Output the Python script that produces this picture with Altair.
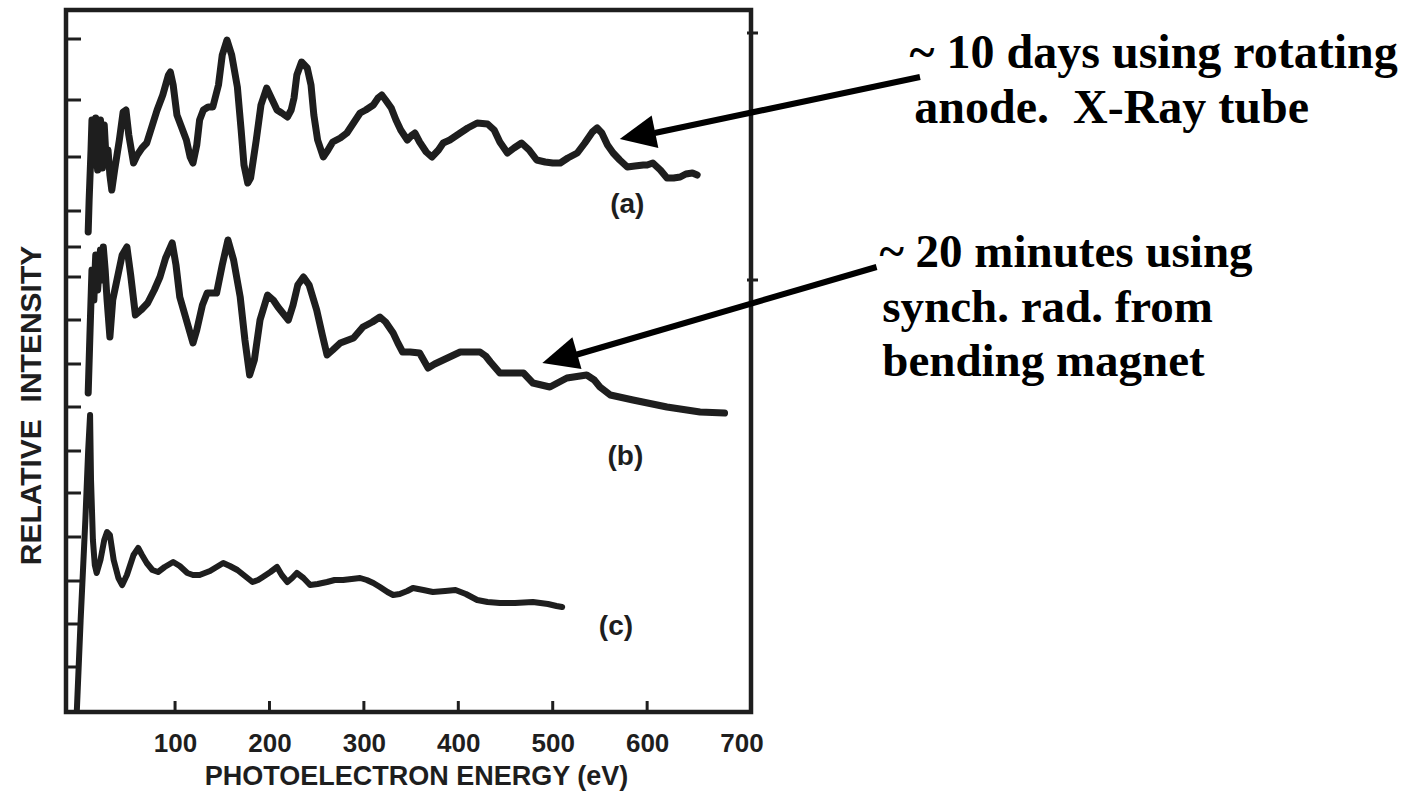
import altair as alt
import pandas as pd

# ---------------- data ----------------
# photoelectron energy (eV) / relative intensity (arbitrary units)
A_E = [8, 9, 11, 12, 14, 16, 18, 21, 23, 25, 27, 29, 31, 33, 36, 41, 45, 48, 51, 56,
       60, 65, 70, 76, 81, 87, 93, 95, 98, 102, 106, 112, 116, 119, 123, 126, 130, 135, 140, 146,
       150, 155, 160, 166, 170, 173, 177, 180, 186, 191, 197, 203, 208, 213, 219, 223, 226, 229, 234, 240,
       244, 247, 251, 257, 262, 267, 275, 282, 289, 296, 302, 310, 315, 319, 323, 329, 334, 339, 346, 351,
       354, 359, 366, 372, 379, 384, 391, 402, 410, 420, 431, 438, 444, 452, 459, 467, 475, 483, 492, 500,
       508, 516, 526, 534, 542, 547, 552, 558, 564, 571, 579, 587, 596, 600, 606, 614, 621, 628, 635, 641,
       648, 653]
A_I = [48.0, 51.2, 56.2, 59.2, 54.7, 59.4, 54.2, 59.2, 54.4, 58.7, 55.2, 56.2, 53.7, 52.2, 54.2, 57.2, 60.0, 60.2, 57.7, 54.9,
       55.7, 56.4, 56.9, 58.7, 60.2, 61.7, 63.7, 64.0, 62.7, 59.7, 58.7, 57.2, 55.5, 54.9, 56.7, 59.2, 60.2, 60.5, 60.5, 62.7,
       65.7, 67.2, 65.7, 62.5, 58.2, 54.7, 52.9, 53.4, 57.2, 60.7, 62.4, 61.2, 60.2, 59.9, 59.5, 60.2, 61.4, 63.7, 65.0, 64.4,
       62.7, 59.7, 57.2, 55.5, 56.2, 57.0, 57.4, 57.9, 58.9, 59.9, 60.2, 60.7, 61.4, 61.7, 61.2, 60.4, 59.2, 58.2, 57.2, 57.7,
       57.9, 57.0, 56.0, 55.5, 56.2, 56.9, 57.2, 57.9, 58.4, 58.9, 58.8, 58.2, 57.0, 55.9, 56.4, 56.9, 56.2, 55.2, 55.0, 54.9,
       54.9, 55.4, 55.9, 56.9, 58.0, 58.4, 57.9, 56.7, 55.9, 55.2, 54.5, 54.6, 54.7, 54.7, 54.9, 54.2, 53.4, 53.4, 53.5, 53.8,
       53.9, 53.7]

B_E = [8, 10, 12, 14, 16, 18, 21, 23, 24, 26, 28, 31, 34, 40, 44, 49, 53, 58, 64, 71,
       78, 84, 90, 97, 101, 105, 112, 119, 123, 129, 134, 144, 150, 156, 162, 169, 174, 179, 184, 190,
       198, 204, 209, 220, 225, 230, 236, 242, 250, 256, 261, 267, 275, 289, 299, 309, 317, 323, 331, 336,
       341, 349, 359, 368, 375, 384, 402, 423, 429, 434, 444, 457, 469, 479, 497, 515, 536, 544, 550, 561,
       585, 621, 656, 682]
B_I = [31.9, 38.2, 44.2, 41.2, 45.7, 42.2, 46.2, 43.2, 46.5, 44.2, 41.2, 37.5, 41.2, 43.9, 45.7, 46.5, 43.7, 39.7, 40.2, 40.9,
       42.2, 43.5, 45.4, 46.9, 44.7, 41.5, 39.2, 36.9, 38.2, 40.7, 41.9, 41.9, 44.7, 47.2, 45.2, 41.5, 37.2, 33.7, 35.2, 39.2,
       41.7, 41.2, 40.5, 39.2, 40.7, 42.7, 43.5, 42.7, 40.2, 37.7, 35.7, 36.2, 36.9, 37.4, 38.5, 39.0, 39.5, 39.0, 37.9, 36.9,
       36.0, 36.0, 35.9, 34.4, 34.8, 35.2, 36.0, 36.0, 35.6, 35.0, 33.9, 33.9, 33.9, 32.9, 32.5, 33.4, 33.7, 33.2, 32.5, 31.7,
       31.2, 30.5, 30.0, 29.9]

C_E = [-4, 0, 5, 8, 10, 11, 13, 15, 17, 21, 25, 28, 31, 35, 40, 44, 49, 56, 61, 65,
       70, 76, 82, 89, 98, 105, 113, 119, 126, 137, 151, 158, 166, 174, 182, 188, 193, 201, 208, 213,
       219, 224, 229, 236, 243, 251, 261, 269, 278, 287, 296, 303, 310, 317, 325, 331, 338, 346, 352, 363,
       373, 386, 397, 408, 420, 431, 444, 460, 479, 495, 504, 510]
C_I = [0.2, 9.2, 19.2, 26.2, 29.7, 23.2, 17.2, 14.7, 13.9, 15.2, 17.2, 18.0, 17.7, 15.2, 13.4, 12.7, 13.7, 15.7, 16.4, 15.7,
       14.9, 14.2, 14.0, 14.5, 15.0, 14.6, 13.9, 13.7, 13.7, 14.1, 14.9, 14.6, 14.2, 13.6, 13.0, 13.2, 13.5, 14.0, 14.5, 13.7,
       13.0, 13.4, 13.9, 13.4, 12.7, 12.8, 13.0, 13.2, 13.2, 13.3, 13.4, 13.2, 12.9, 12.5, 12.0, 11.7, 11.8, 12.1, 12.4, 12.2,
       12.0, 12.1, 12.2, 11.8, 11.2, 11.0, 10.9, 10.9, 11.0, 10.8, 10.6, 10.5]

X_LABELS = [100, 200, 300, 400, 500, 600, 700]
X_TICKS = [100, 200, 300, 400, 500, 600]
Y_TICKS = [67.3, 61.2, 55.5, 50.1, 46.5, 43.5, 39.2, 34.8, 30.5, 26.1, 21.9, 17.5, 13.1, 8.8, 4.5]
Y_RIGHT_TICKS = [67.9, 43.2]

NBSP = "\u00a0"
CURVE_LABELS = ["(a)", "(b)", "(c)"]
CURVE_LABEL_E = [579, 577, 567]
CURVE_LABEL_I = [50.7, 25.5, 8.5]

NOTE_TEXT = ["~ 10 days using rotating", "anode." + NBSP + NBSP + "X-Ray tube",
             "~ 20 minutes using", "synch. rad. from", "bending magnet"]
NOTE_E = [878, 883, 846, 849, 849]
NOTE_I = [64.4, 58.9, 44.5, 39.0, 33.6]
NOTE_SIZE = [48, 48, 47, 47, 47]

ARROW_TAIL_E = [889, 843]
ARROW_TAIL_I = [63.5, 44.5]
ARROW_BASE_E = [608, 524]
ARROW_BASE_I = [57.9, 35.7]
ARROW_TIP_E = [571, 489]
ARROW_TIP_I = [57.3, 34.9]
ARROW_ANGLE = [348.3, 344.0]

# ---------------- tables ----------------
def curve(e, i, name):
    return pd.DataFrame({"e": e, "v": i, "s": name, "k": list(range(len(e)))})

ca, cb, cc = curve(A_E, A_I, "a"), curve(B_E, B_I, "b"), curve(C_E, C_I, "c")
ytk = pd.DataFrame({"v": Y_TICKS})
ytr = pd.DataFrame({"v": Y_RIGHT_TICKS})
xtk = pd.DataFrame({"e": X_TICKS})
lab = pd.DataFrame({"e": CURVE_LABEL_E, "v": CURVE_LABEL_I, "t": CURVE_LABELS})
notes = pd.DataFrame({"e": NOTE_E, "v": NOTE_I, "t": NOTE_TEXT, "fs": NOTE_SIZE})
shafts = pd.DataFrame({"e": ARROW_TAIL_E, "v": ARROW_TAIL_I, "e2": ARROW_BASE_E, "v2": ARROW_BASE_I})
heads = pd.DataFrame({"e": ARROW_TIP_E, "v": ARROW_TIP_I, "a": ARROW_ANGLE})

INK = "#1e1e1e"
SANS = "Liberation Sans"

xs = alt.Scale(domain=[-15.5, 710], nice=False, zero=False)
ys = alt.Scale(domain=[0, 70.2], nice=False, zero=False)

x_axis = alt.Axis(values=X_LABELS, title="PHOTOELECTRON ENERGY (eV)", ticks=False, domain=False,
                  grid=False, labelFont=SANS, labelFontSize=26, labelFontWeight="bold",
                  labelColor=INK, labelPadding=18, labelFlush=False, labelOverlap=False,
                  titleFont=SANS, titleFontSize=27, titleFontWeight="bold", titleColor=INK,
                  titleX=350, titleY=72, titleBaseline="alphabetic")
y_axis = alt.Axis(labels=False, ticks=False, domain=False, grid=False,
                  title="RELATIVE" + NBSP + NBSP + "INTENSITY", titleFont=SANS, titleFontSize=30,
                  titleFontWeight="bold", titleColor=INK, titleX=-26, titleY=395,
                  titleAngle=270, titleBaseline="alphabetic", titleAlign="center")


def X(field="e"):
    return alt.X(f"{field}:Q", scale=xs, axis=x_axis)


def Y(field="v"):
    return alt.Y(f"{field}:Q", scale=ys, axis=y_axis)


def line(df, w):
    return alt.Chart(df).mark_line(color=INK, strokeWidth=w, strokeCap="round",
                                   strokeJoin="round").encode(
        x=X(), y=Y(), order=alt.Order("k:Q"))


line_a = line(ca, 7)
line_b = line(cb, 7)
line_c = line(cc, 6)

yticks = alt.Chart(ytk).mark_rule(color=INK, strokeWidth=3).encode(
    y=Y(), x=alt.value(0), x2=alt.value(15))
yticks_r = alt.Chart(ytr).mark_rule(color=INK, strokeWidth=3).encode(
    y=Y(), x=alt.value(681), x2=alt.value(692))
xticks = alt.Chart(xtk).mark_rule(color=INK, strokeWidth=3).encode(
    x=X(), y=alt.value(691), y2=alt.value(702))

labels = alt.Chart(lab).mark_text(font=SANS, fontSize=28, fontWeight="bold", color=INK,
                                  align="center", baseline="middle").encode(
    x=X(), y=Y(), text="t:N")

note_text = alt.Chart(notes).mark_text(font="Liberation Serif", fontWeight="bold",
                                       color="black", align="left", baseline="alphabetic").encode(
    x=X(), y=Y(), text="t:N", size=alt.Size("fs:Q", scale=None, legend=None))

shaft = alt.Chart(shafts).mark_rule(color="black", strokeWidth=6).encode(
    x=X(), y=Y(), x2="e2:Q", y2="v2:Q")

head = alt.Chart(heads).mark_point(shape="M0,0L2,-0.92L2,0.92Z", filled=True, size=1296,
                                   color="black", opacity=1, strokeWidth=0).encode(
    x=X(), y=Y(), angle=alt.Angle("a:Q", scale=None))

chart = alt.layer(line_a, line_b, line_c, yticks, yticks_r, xticks, labels,
                  shaft, head, note_text).properties(
    width=685, height=702,
    autosize=alt.AutoSizeParams(type="none"),
    padding={"left": 66, "top": 10, "right": 669, "bottom": 85},
    background="white",
).configure_view(stroke=INK, strokeWidth=4.5)

chart.save("out.html", embed_options={"renderer": "svg", "actions": False})
